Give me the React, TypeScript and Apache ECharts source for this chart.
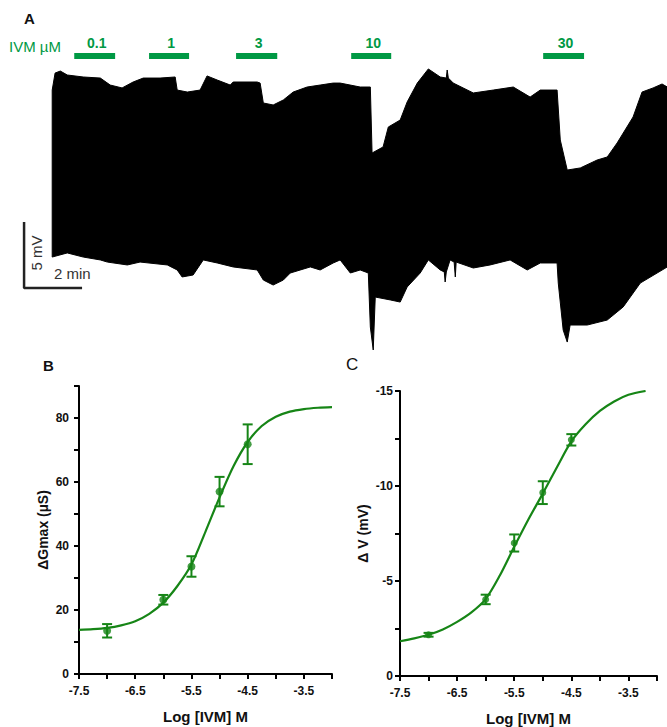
import React, { useEffect, useRef } from "react";
import * as echarts from "echarts";

// ---- Panel A: membrane potential trace (time in min, potential in mV, arbitrary baseline)
const traceTop: [number, number][] = [
  [0, -4.55], [0.1, -3.26], [0.28, -3.11], [0.52, -3.41], [1.07, -3.56], [1.66, -3.64],
  [2.0, -4.17], [2.41, -4.39], [2.79, -3.94], [3.14, -3.64], [3.72, -3.64], [4.24, -3.56],
  [4.31, -4.55], [4.66, -4.7], [5.1, -4.55], [5.34, -3.48], [5.69, -3.79], [6.14, -4.17],
  [6.24, -3.94], [7.07, -3.94], [7.17, -4.02], [7.28, -5.53], [7.62, -5.68], [7.97, -5.3],
  [8.31, -4.7], [8.79, -4.32], [9.24, -4.17], [9.69, -4.02], [9.93, -4.02], [10.62, -4.32],
  [10.97, -4.32], [11.03, -9.32], [11.41, -8.86], [11.59, -7.35], [12.0, -6.82], [12.24, -5.45],
  [12.59, -4.02], [12.97, -2.95], [13.38, -3.56], [13.59, -3.64], [13.62, -3.03], [13.66, -3.64],
  [13.83, -4.02], [14.52, -4.77], [15.21, -4.55], [15.9, -4.32], [16.48, -5.08], [16.83, -4.55],
  [17.41, -4.55], [17.52, -8.33], [17.76, -10.61], [18.21, -10.45], [18.79, -9.85], [19.14, -9.62],
  [19.48, -8.56], [20.03, -6.59], [20.34, -4.7], [20.72, -4.39], [21.03, -4.09], [21.21, -4.32],
];
const traceBottom: [number, number][] = [
  [0, -17.2], [0.52, -16.89], [1.07, -17.2], [1.66, -17.42], [1.9, -17.58], [2.59, -17.8],
  [3.03, -17.58], [3.97, -17.8], [4.31, -18.18], [4.48, -18.71], [4.86, -18.56], [5.21, -17.42],
  [5.69, -17.65], [6.24, -17.95], [7.07, -18.18], [7.28, -18.94], [7.62, -19.32], [7.97, -18.94],
  [8.21, -18.41], [8.9, -17.95], [9.24, -18.18], [9.69, -17.65], [9.93, -17.42], [10.28, -18.41],
  [10.62, -18.18], [10.9, -18.41], [10.97, -22.5], [11.07, -24.24], [11.14, -20.23], [11.66, -20.45],
  [12.0, -20.61], [12.24, -19.47], [12.69, -18.41], [12.97, -17.42], [13.38, -18.18], [13.52, -18.33],
  [13.55, -19.09], [13.59, -18.33], [13.72, -17.42], [13.86, -17.58], [13.9, -18.71], [13.93, -17.58],
  [14.52, -18.03], [15.1, -17.8], [15.79, -17.42], [16.38, -18.18], [16.83, -17.65], [17.41, -17.65],
  [17.45, -19.17], [17.62, -22.73], [17.76, -23.64], [17.86, -22.35], [18.45, -22.35], [19.14, -21.97],
  [19.69, -20.98], [20.28, -19.17], [20.86, -18.41], [21.21, -17.95],
];

// IVM applications (µM), start/end in min
const doseLabels = ["0.1", "1", "3", "10", "30"];
const doseStart = [0.76, 3.34, 6.34, 10.31, 16.93];
const doseEnd = [2.17, 4.72, 7.76, 11.69, 18.34];

// scale bar: 2 min x 5 mV
const scaleBarOrigin: [number, number] = [-0.97, -19.55];
const scaleBarMin = 2;
const scaleBarMv = 5;

// ---- Panels B and C: concentration-response
const logDose = [-7, -6, -5.5, -5, -4.5];
const gMean = [13.5, 23.2, 33.6, 57.0, 71.8];
const gSem = [2.1, 1.5, 3.2, 4.6, 6.2];
const vMean = [-2.17, -4.03, -7.0, -9.65, -12.43];
const vSem = [0.1, 0.25, 0.45, 0.6, 0.3];

const fitXB = [-7.5, -7.25, -7, -6.75, -6.5, -6.25, -6, -5.75, -5.5, -5.25, -5, -4.75, -4.5, -4.25, -4, -3.75, -3.5, -3.25, -3];
const fitB = [13.8, 14.0, 14.4, 15.2, 16.5, 18.8, 22.3, 27.5, 34.2, 44.5, 55.2, 65.0, 72.5, 77.5, 80.4, 82.0, 82.8, 83.2, 83.4];
const fitXC = [-7.5, -7.25, -7, -6.75, -6.5, -6.25, -6, -5.75, -5.5, -5.25, -5, -4.75, -4.5, -4.25, -4, -3.75, -3.5, -3.2];
const fitC = [-1.83, -1.98, -2.17, -2.45, -2.85, -3.35, -4.05, -5.3, -6.8, -8.25, -9.6, -11.0, -12.35, -13.25, -13.95, -14.45, -14.8, -15.0];

const GREEN = "#168516";
const LABEL_GREEN = "#009944";
const FONT = "'Liberation Sans', Arial, sans-serif";

function errorRender(params: any, api: any) {
  const x = api.value(0);
  const lo = api.coord([x, api.value(1)]);
  const hi = api.coord([x, api.value(2)]);
  const w = 5;
  const st = { stroke: GREEN, lineWidth: 2 };
  return {
    type: "group",
    children: [
      { type: "line", shape: { x1: lo[0], y1: lo[1], x2: hi[0], y2: hi[1] }, style: st },
      { type: "line", shape: { x1: lo[0] - w, y1: lo[1], x2: lo[0] + w, y2: lo[1] }, style: st },
      { type: "line", shape: { x1: hi[0] - w, y1: hi[1], x2: hi[0] + w, y2: hi[1] }, style: st },
    ],
  };
}

const tickLabel = { fontFamily: FONT, fontWeight: "bold", fontSize: 12, color: "#111" };

function doseAxisX(gridIndex: number) {
  return {
    type: "value",
    gridIndex,
    min: -7.5,
    max: -3,
    interval: 0.5,
    name: "Log [IVM] M",
    nameLocation: "middle",
    nameGap: 35,
    nameTextStyle: { fontFamily: FONT, fontWeight: "bold", fontSize: 15, color: "#111" },
    axisLine: { show: true, onZero: false, lineStyle: { color: "#000", width: 2 } },
    axisTick: { show: true, length: 5, lineStyle: { color: "#000", width: 2 } },
    splitLine: { show: false },
    axisLabel: {
      ...tickLabel,
      margin: 11,
      formatter: (v: number) => (Math.round(v * 2) % 2 !== 0 ? v.toFixed(1) : ""),
    },
  };
}

export default function App() {
  const ref = useRef<HTMLDivElement>(null);
  useEffect(() => {
    if (!ref.current) return;
    const chart = echarts.init(ref.current, null, { renderer: "svg" });

    const bar = scaleBarOrigin;
    const option: any = {
      animation: false,
      backgroundColor: "#fff",
      grid: [
        { left: 0, top: 30, width: 667, height: 330 },
        { left: 79, top: 386, width: 253, height: 288 },
        { left: 400, top: 391, width: 257, height: 287 },
      ],
      xAxis: [
        { type: "value", gridIndex: 0, min: -1.8, max: 21.2, show: false },
        doseAxisX(1),
        doseAxisX(2),
      ],
      yAxis: [
        { type: "value", gridIndex: 0, min: -25, max: 0, show: false },
        {
          type: "value",
          gridIndex: 1,
          min: 0,
          max: 90,
          interval: 10,
          name: "ΔGmax (µS)",
          nameLocation: "middle",
          nameGap: 29,
          nameTextStyle: { fontFamily: FONT, fontWeight: "bold", fontSize: 14, color: "#111" },
          axisLine: { show: true, onZero: false, lineStyle: { color: "#000", width: 2 } },
          axisTick: { show: true, length: 5, lineStyle: { color: "#000", width: 2 } },
          splitLine: { show: false },
          axisLabel: {
            ...tickLabel,
            margin: 10,
            formatter: (v: number) => (Math.round(v) % 20 === 0 ? String(v) : ""),
          },
        },
        {
          type: "value",
          gridIndex: 2,
          min: -15,
          max: 0,
          inverse: true,
          interval: 2.5,
          name: "Δ V (mV)",
          nameLocation: "middle",
          nameGap: 30,
          nameTextStyle: { fontFamily: FONT, fontWeight: "bold", fontSize: 14, color: "#111" },
          axisLine: { show: true, onZero: false, lineStyle: { color: "#000", width: 2 } },
          axisTick: { show: true, length: 5, lineStyle: { color: "#000", width: 2 } },
          splitLine: { show: false },
          axisLabel: {
            ...tickLabel,
            margin: 7,
            formatter: (v: number) => (Math.abs(v) % 5 === 0 ? String(v) : ""),
          },
        },
      ],
      graphic: [
        { type: "text", left: 24, top: 11, style: { text: "A", font: `bold 15px ${FONT}`, fill: "#111" } },
        { type: "text", left: 43, top: 358, style: { text: "B", font: `bold 15px ${FONT}`, fill: "#111" } },
        { type: "text", left: 346, top: 356, style: { text: "C", font: `17px ${FONT}`, fill: "#111" } },
        { type: "text", left: 9, top: 39, style: { text: "IVM µM", font: `15px ${FONT}`, fill: LABEL_GREEN } },
        {
          type: "text",
          x: 36,
          y: 253,
          rotation: Math.PI / 2,
          style: { text: "5 mV", font: `15px ${FONT}`, fill: "#333", align: "center", verticalAlign: "middle" },
        },
        { type: "text", left: 54, top: 266, style: { text: "2 min", font: `15px ${FONT}`, fill: "#333" } },
      ],
      series: [
        {
          type: "custom",
          xAxisIndex: 0,
          yAxisIndex: 0,
          data: traceTop,
          renderItem: (params: any, api: any) => {
            if (params.dataIndex !== 0) return null;
            const pts = traceTop.map((p) => api.coord(p));
            for (let i = traceBottom.length - 1; i >= 0; i--) pts.push(api.coord(traceBottom[i]));
            return {
              type: "polygon",
              shape: { points: pts },
              style: { fill: "#000", stroke: "#000", lineWidth: 1 },
            };
          },
        },
        {
          type: "custom",
          xAxisIndex: 0,
          yAxisIndex: 0,
          data: doseStart.map((s, i) => [s, doseEnd[i]]),
          renderItem: (params: any, api: any) => {
            const a = api.coord([api.value(0), -1.97]);
            const b = api.coord([api.value(1), -1.97]);
            return {
              type: "group",
              children: [
                { type: "rect", shape: { x: a[0], y: a[1] - 3, width: b[0] - a[0], height: 6 }, style: { fill: LABEL_GREEN } },
                {
                  type: "text",
                  x: (a[0] + b[0]) / 2 + 2,
                  y: a[1] - 6,
                  style: {
                    text: doseLabels[params.dataIndex],
                    font: `bold 14px ${FONT}`,
                    fill: LABEL_GREEN,
                    align: "center",
                    verticalAlign: "bottom",
                  },
                },
              ],
            };
          },
        },
        {
          type: "line",
          xAxisIndex: 0,
          yAxisIndex: 0,
          data: [
            [bar[0], bar[1] + scaleBarMv],
            [bar[0], bar[1]],
            [bar[0] + scaleBarMin, bar[1]],
          ],
          showSymbol: false,
          lineStyle: { color: "#222", width: 2.5 },
        },
        {
          type: "line",
          xAxisIndex: 1,
          yAxisIndex: 1,
          data: fitXB.map((x, i) => [x, fitB[i]]),
          smooth: 0.3,
          showSymbol: false,
          lineStyle: { color: GREEN, width: 2.2 },
        },
        {
          type: "custom",
          xAxisIndex: 1,
          yAxisIndex: 1,
          encode: { x: 0, y: [1, 2] },
          data: logDose.map((x, i) => [x, gMean[i] - gSem[i], gMean[i] + gSem[i]]),
          renderItem: errorRender,
        },
        {
          type: "scatter",
          xAxisIndex: 1,
          yAxisIndex: 1,
          data: logDose.map((x, i) => [x, gMean[i]]),
          symbol: "circle",
          symbolSize: 8,
          itemStyle: { color: GREEN },
        },
        {
          type: "line",
          xAxisIndex: 2,
          yAxisIndex: 2,
          data: fitXC.map((x, i) => [x, fitC[i]]),
          smooth: 0.3,
          showSymbol: false,
          lineStyle: { color: GREEN, width: 2.2 },
        },
        {
          type: "custom",
          xAxisIndex: 2,
          yAxisIndex: 2,
          encode: { x: 0, y: [1, 2] },
          data: logDose.map((x, i) => [x, vMean[i] - vSem[i], vMean[i] + vSem[i]]),
          renderItem: errorRender,
        },
        {
          type: "scatter",
          xAxisIndex: 2,
          yAxisIndex: 2,
          data: logDose.map((x, i) => [x, vMean[i]]),
          symbol: "circle",
          symbolSize: 7,
          itemStyle: { color: GREEN },
        },
      ],
    };
    chart.setOption(option);
    return () => chart.dispose();
  }, []);
  return (
    <div
      ref={ref}
      style={{ position: "fixed", left: 0, top: 0, width: 667, height: 727, background: "#fff" }}
    />
  );
}
